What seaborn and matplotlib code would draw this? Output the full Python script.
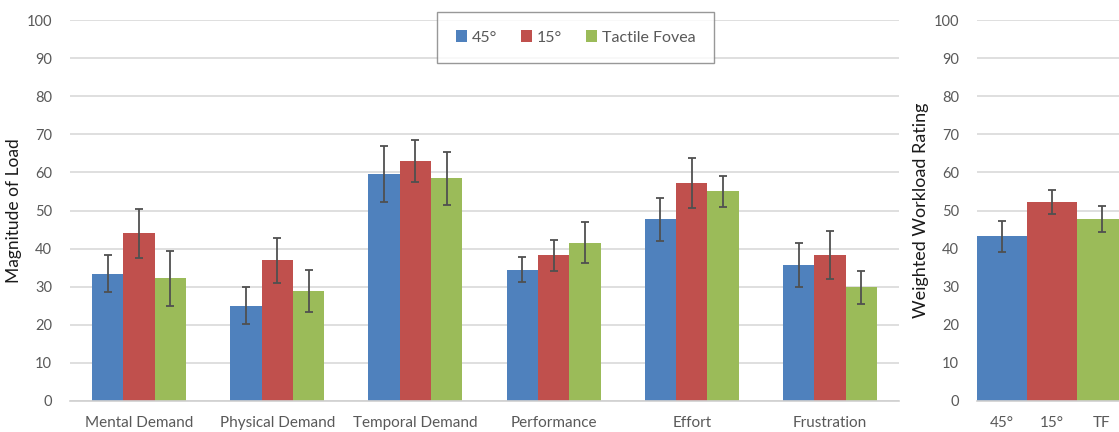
import matplotlib
matplotlib.use("Agg")
import matplotlib.pyplot as plt
import seaborn as sns
import pandas as pd
import numpy as np
from matplotlib.patches import Patch

# ---- data ----
categories = ["Mental Demand", "Physical Demand", "Temporal Demand",
              "Performance", "Effort", "Frustration"]
conditions = ["45°", "15°", "Tactile Fovea"]
mean_45 = [33.4, 25.0, 59.6, 34.5, 47.7, 35.6]
mean_15 = [44.0, 37.0, 63.0, 38.2, 57.2, 38.2]
mean_tf = [32.2, 28.8, 58.4, 41.6, 55.0, 29.8]
err_45 = [4.8, 4.8, 7.4, 3.3, 5.7, 5.8]
err_15 = [6.5, 5.9, 5.5, 4.1, 6.6, 6.3]
err_tf = [7.2, 5.5, 6.9, 5.3, 4.0, 4.3]

overall_labels = ["45°", "15°", "TF"]
overall_mean = [43.2, 52.3, 47.7]
overall_err = [4.0, 3.2, 3.4]

colors = ["#4F81BD", "#C0504D", "#9BBB59"]
yticks = [0, 10, 20, 30, 40, 50, 60, 70, 80, 90, 100]

sns.set_theme(style="white")
plt.rcParams["font.family"] = ["Lato", "DejaVu Sans"]

W, H = 1119, 432
fig = plt.figure(figsize=(W / 100, H / 100), dpi=100)

def px_axes(x0, x1, ytop, ybot):
    return fig.add_axes([x0 / W, 1 - ybot / H, (x1 - x0) / W, (ybot - ytop) / H])

ax1 = px_axes(70, 899, 20, 401)
ax2 = px_axes(977, 1127, 20, 401)

# long-form table
rows = []
for cond, means, errs in zip(conditions, [mean_45, mean_15, mean_tf], [err_45, err_15, err_tf]):
    for c, m, e in zip(categories, means, errs):
        rows.append({"category": c, "condition": cond, "value": m, "err": e})
df = pd.DataFrame(rows)

sns.barplot(data=df, x="category", y="value", hue="condition", order=categories,
            hue_order=conditions, palette=colors, width=0.68, errorbar=None,
            saturation=1, ax=ax1, legend=False, linewidth=0)

# error bars at the bar centres
for i, cond in enumerate(conditions):
    sub = df[df.condition == cond].set_index("category").loc[categories]
    bars = ax1.containers[i]
    xs = [b.get_x() + b.get_width() / 2 for b in bars]
    ax1.errorbar(xs, sub["value"].values, yerr=sub["err"].values, fmt="none",
                 ecolor="#505050", elinewidth=1.3, capsize=2.7, capthick=1.3, zorder=5)
ax1.set_xlim(-0.5, len(categories) - 0.5)

df2 = pd.DataFrame({"cond": overall_labels, "value": overall_mean, "err": overall_err})
sns.barplot(data=df2, x="cond", y="value", hue="cond", order=overall_labels,
            palette=colors, width=1.0, errorbar=None, saturation=1, ax=ax2,
            legend=False, linewidth=0)
xs2 = [b.get_x() + b.get_width() / 2 for c in ax2.containers for b in c]
ax2.errorbar(xs2, df2["value"].values, yerr=df2["err"].values, fmt="none",
             ecolor="#505050", elinewidth=1.3, capsize=2.7, capthick=1.3, zorder=5)
ax2.set_xlim(-0.5, 2.5)

for ax, lab, fs in [(ax1, "Magnitude of Load", 12.5), (ax2, "Weighted Workload Rating", 13)]:
    ax.set_ylim(0, 100)
    ax.set_yticks(yticks)
    ax.yaxis.grid(True, color="#D9D9D9", linewidth=1.2)
    ax.set_axisbelow(True)
    for s in ["top", "right", "left"]:
        ax.spines[s].set_visible(False)
    ax.spines["bottom"].set_color("#D0D0D0")
    ax.spines["bottom"].set_linewidth(1.2)
    ax.tick_params(axis="both", length=0, labelsize=10.5, labelcolor="#595959")
    ax.tick_params(axis="x", labelsize=11)
    ax.tick_params(axis="y", pad=13)
    ax.tick_params(axis="x", pad=11)
    ax.set_xlabel("")
    ax.set_ylabel(lab, fontsize=fs, color="#1a1a1a", labelpad=3)
    ax.set_facecolor("white")

handles = [Patch(facecolor=c, edgecolor="none") for c in colors]
leg = ax1.legend(handles, conditions, ncol=3, loc="center", bbox_to_anchor=(0.61, 0.954),
                 frameon=True, fancybox=False, edgecolor="#7F7F7F", fontsize=11.5,
                 handlelength=0.7, handleheight=0.7, handletextpad=0.3,
                 columnspacing=1.5, borderpad=1.15, borderaxespad=0)
leg.get_frame().set_linewidth(1.0)
for t in leg.get_texts():
    t.set_color("#595959")

fig.savefig("out.png", dpi=100, facecolor="white")
